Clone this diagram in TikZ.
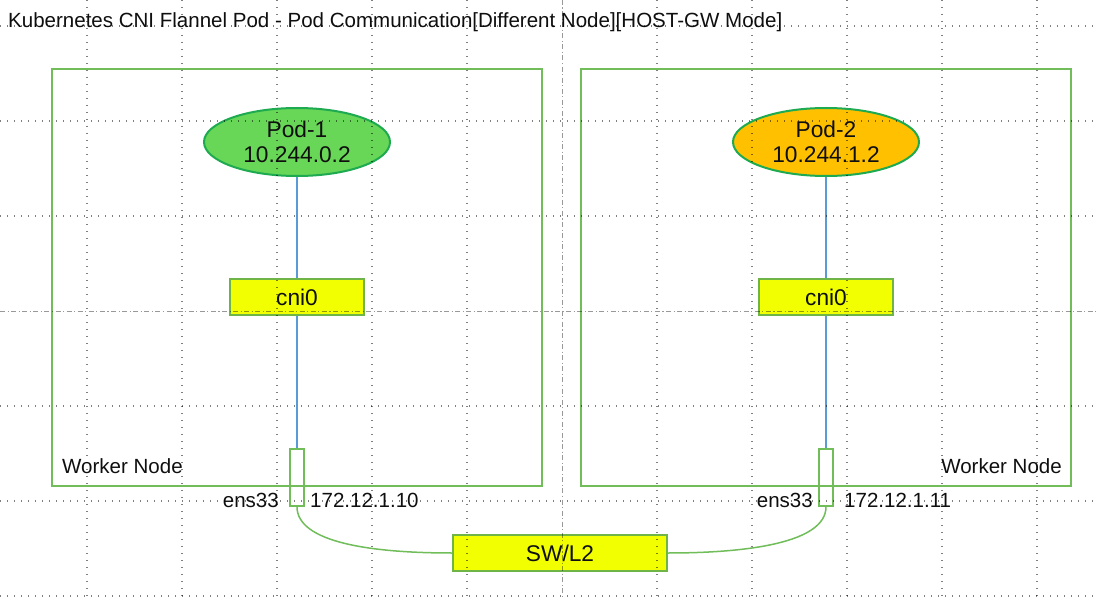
\documentclass[tikz,border=0pt]{standalone}
\usepackage{fontspec}
\setmainfont{Liberation Sans}
\usetikzlibrary{shapes.geometric,calc}

\definecolor{framegreen}{RGB}{112,189,90}
\definecolor{podborder}{RGB}{30,170,80}
\definecolor{podgreen}{RGB}{104,214,86}
\definecolor{podorange}{RGB}{255,192,0}
\definecolor{bridgeyellow}{RGB}{242,255,0}
\definecolor{bridgeborder}{RGB}{110,180,70}
\definecolor{linkblue}{RGB}{91,155,213}
\definecolor{ink}{RGB}{15,15,15}

\begin{document}
\begin{tikzpicture}[x=1bp,y=-1bp,
  workernode/.style={draw=framegreen, line width=1.3bp, minimum width=490bp,
    minimum height=417bp, inner sep=0},
  pod/.style={ellipse, draw=podborder, line width=2bp, minimum width=186bp,
    minimum height=68bp, inner sep=0, align=center, text=ink,
    font=\fontsize{22.8}{25}\selectfont},
  bridge/.style={draw=bridgeborder, fill=bridgeyellow, line width=1.5bp,
    minimum width=134bp, minimum height=36bp, inner sep=0, text=ink,
    font=\fontsize{22.8}{25}\selectfont},
  port/.style={draw=framegreen, line width=1.5bp, minimum width=14bp,
    minimum height=57bp, inner sep=0},
  lbl/.style={inner sep=0, text=ink, font=\fontsize{20.6}{24}\selectfont},
  link/.style={draw=linkblue, line width=1.5bp},
  wire/.style={draw=framegreen, line width=1.5bp},
  gridline/.style={black, opacity=0.5, line width=1.1bp,
    dash pattern=on 1.1bp off 5.9bp},
  centerline/.style={black, opacity=0.4, line width=1bp,
    dash pattern=on 5bp off 2.5bp on 1.1bp off 2.5bp}
]
\useasboundingbox (0,0) rectangle (1096,597);
\fill[white] (0,0) rectangle (1096,597);

% title
\node[lbl, anchor=west, font=\fontsize{20.6}{24}\selectfont] (title) at (8,22)
  {Kubernetes CNI Flannel Pod - Pod Communication[Different Node][HOST-GW Mode]};

% worker nodes
\node[workernode] (wn1) at (297,277.5) {};
\node[workernode] (wn2) at (826,277.5) {};
\node[lbl, anchor=west] (wn1label) at (62,466) {Worker Node};
\node[lbl, anchor=east] (wn2label) at (1062,466) {Worker Node};

% pods
\node[pod, fill=podgreen] (pod1) at (297,142) {Pod-1\\10.244.0.2};
\node[pod, fill=podorange] (pod2) at (826,142) {Pod-2\\10.244.1.2};

% bridges
\node[bridge] (cni1) at (297,297) {cni0};
\node[bridge] (cni2) at (826,297) {cni0};

% host interfaces
\node[port] (port1) at (297,477.5) {};
\node[port] (port2) at (826,477.5) {};
\node[lbl, anchor=east] (if1) at (279,500) {ens33};
\node[lbl, anchor=west] (ip1) at (310,500) {172.12.1.10};
\node[lbl, anchor=east] (if2) at (813,500) {ens33};
\node[lbl, anchor=west] (ip2) at (844,500) {172.12.1.11};

% switch
\node[bridge, minimum width=214bp] (sw) at (560,553) {SW/L2};

% connections
\draw[link] (pod1.south) -- (cni1.north);
\draw[link] (cni1.south) -- (port1.north);
\draw[link] (pod2.south) -- (cni2.north);
\draw[link] (cni2.south) -- (port2.north);
\draw[wire] (port1.south) .. controls +(0,36) and +(-80,0) .. (sw.west);
\draw[wire] (port2.south) .. controls +(0,36) and +(80,0) .. (sw.east);

% page grid
\foreach \gx in {87,182,277,372,467,657,752,847,942,1037}
  \draw[gridline] (\gx,0) -- (\gx,597);
\foreach \gy in {26,121,216,406,501,596}
  \draw[gridline] (0,\gy) -- (1096,\gy);
\draw[centerline] (562,0) -- (562,597);
\draw[centerline] (0,311) -- (1096,311);
\end{tikzpicture}
\end{document}
